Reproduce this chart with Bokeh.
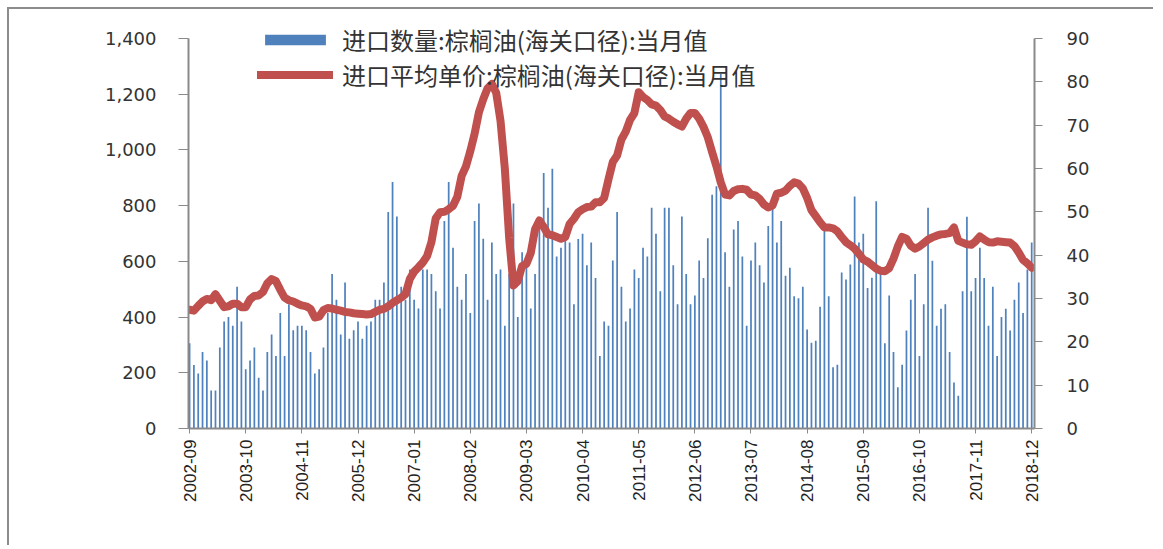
import numpy as np
from bokeh.plotting import figure
from bokeh.models import Range1d, LinearAxis, FixedTicker, NumeralTickFormatter, Legend
from bokeh.embed import file_html
from bokeh.resources import INLINE

# ---------------- data ----------------
tick_labels = ["2002-09", "2003-10", "2004-11", "2005-12", "2007-01", "2008-02",
               "2009-03", "2010-04", "2011-05", "2012-06", "2013-07", "2014-08",
               "2015-09", "2016-10", "2017-11", "2018-12"]

# monthly import quantity (left axis), 2002-09 .. 2018-12
qty = [306, 228, 197, 275, 244, 136, 136, 291, 384, 400, 369, 509, 384, 213, 244, 291,
       182, 136, 275, 337, 260, 415, 260, 446, 353, 369, 369, 353, 275, 197, 213, 291,
       415, 555, 462, 337, 524, 322, 353, 384, 322, 369, 384, 462, 462, 524, 777, 885,
       761, 509, 462, 571, 462, 431, 571, 571, 555, 493, 431, 745, 885, 649, 509, 462,
       555, 415, 745, 808, 681, 462, 668, 555, 571, 369, 555, 808, 400, 633, 603, 431,
       555, 745, 917, 792, 932, 617, 649, 680, 668, 446, 680, 699, 586, 668, 540, 260,
       384, 369, 603, 777, 509, 384, 431, 571, 540, 649, 617, 792, 699, 493, 792, 792,
       586, 446, 761, 555, 446, 477, 603, 540, 683, 839, 870, 1273, 633, 509, 714, 745,
       617, 369, 603, 668, 586, 524, 727, 792, 668, 745, 548, 577, 475, 468, 509, 355,
       308, 315, 437, 714, 475, 220, 229, 560, 535, 589, 833, 668, 699, 504, 541, 816,
       555, 306, 477, 275, 148, 229, 352, 462, 555, 260, 446, 792, 602, 369, 430, 446,
       275, 165, 118, 493, 760, 493, 540, 649, 540, 369, 509, 260, 400, 430, 352, 462,
       524, 415, 571, 668]

# monthly average import price (right axis)
price = [27.4, 27.2, 28.3, 29.3, 29.9, 29.6, 31.0, 29.5, 28.0, 28.2, 28.8, 28.8, 28.0, 28.0,
         29.8, 30.6, 30.7, 31.5, 33.5, 34.5, 34.0, 32.0, 30.2, 29.6, 29.3, 28.8, 28.4, 28.2,
         27.6, 25.6, 25.8, 27.3, 27.8, 27.7, 27.4, 27.2, 26.9, 26.8, 26.6, 26.5, 26.4, 26.3,
         26.4, 26.9, 27.4, 27.6, 28.2, 29.0, 29.6, 30.2, 31.0, 34.5, 36.2, 37.2, 38.3, 39.8,
         43.0, 48.5, 49.9, 50.0, 50.6, 51.4, 53.5, 58.3, 60.5, 64.0, 68.0, 73.0, 76.0, 78.5,
         79.5, 77.5, 71.0, 60.0, 44.0, 33.0, 34.0, 37.5, 38.0, 40.5, 46.0, 48.0, 46.5, 44.8,
         44.6, 44.2, 43.8, 44.2, 47.2, 48.4, 49.9, 50.6, 51.1, 51.2, 52.2, 52.2, 53.2, 57.5,
         61.5, 63.0, 66.7, 68.5, 71.2, 72.8, 77.6, 76.5, 75.8, 74.8, 74.5, 73.5, 72.0, 71.5,
         70.8, 70.2, 69.7, 71.5, 72.8, 72.8, 71.5, 69.6, 67.2, 63.8, 60.5, 56.8, 54.0, 53.8,
         54.8, 55.2, 55.3, 55.1, 54.0, 53.8, 53.0, 51.7, 51.0, 51.5, 54.2, 54.4, 54.9, 56.0,
         56.8, 56.5, 55.4, 53.2, 50.4, 49.0, 47.6, 46.4, 46.4, 46.2, 45.5, 44.2, 43.0, 42.3,
         41.5, 40.3, 39.0, 38.5, 37.7, 36.9, 36.4, 36.3, 37.0, 39.2, 42.0, 44.2, 43.8, 42.2,
         41.5, 42.0, 42.8, 43.6, 44.1, 44.5, 44.8, 44.9, 45.1, 46.4, 43.3, 42.9, 42.5, 42.4,
         43.2, 44.3, 43.6, 43.0, 42.9, 43.2, 43.1, 43.0, 42.9, 42.1, 40.6, 38.9, 38.1, 37.1]

label_qty = "进口数量:棕榈油(海关口径):当月值"
label_price = "进口平均单价:棕榈油(海关口径):当月值"

qty_max, price_max = 1400, 90
x = list(range(len(qty)))
tick_pos = [i * 13 for i in range(len(tick_labels))]

# frame extends a little above the top tick so the legend is not clipped
head = 408 / 390

# ---------------- figure ----------------
p = figure(width=1146, height=538, output_backend="svg", toolbar_location=None,
           x_range=Range1d(-0.25, 195.65), y_range=Range1d(0, qty_max * head),
           min_border_left=179, min_border_right=121, min_border_top=11,
           min_border_bottom=119)
p.styles = {"margin-left": "7px", "margin-top": "7px",
            "border-left": "2px solid #8c8c8c", "border-top": "2px solid #8c8c8c"}
p.outline_line_color = None
p.xgrid.visible = False
p.ygrid.visible = False
p.background_fill_color = "white"
p.border_fill_color = "white"

p.extra_y_ranges = {"price": Range1d(0, price_max * head)}

bars = p.vbar(x=x, top=qty, width=0.4, fill_color="#4F81BD", line_color=None)
line = p.line(x=x, y=price, y_range_name="price", line_color="#C0504D",
              line_width=8, line_join="round", line_cap="round")

axis_color = "#8a8a8a"
tick_font = "DejaVu Sans"

# left axis
la = p.yaxis[0]
la.ticker = FixedTicker(ticks=list(range(0, qty_max + 1, 200)))
la.bounds = (0, qty_max)
la.formatter = NumeralTickFormatter(format="0,0")
la.axis_line_color = axis_color
la.axis_line_width = 2
la.major_tick_line_color = axis_color
la.major_tick_out = 10
la.major_tick_in = 0
la.minor_tick_line_color = None
la.major_label_standoff = 22
la.major_label_text_font = tick_font
la.major_label_text_font_size = "18px"
la.major_label_text_color = "#333333"

# right axis
ra = LinearAxis(y_range_name="price", ticker=FixedTicker(ticks=list(range(0, price_max + 1, 10))))
ra.bounds = (0, price_max)
ra.axis_line_color = axis_color
ra.axis_line_width = 2
ra.major_tick_line_color = axis_color
ra.major_tick_out = 8
ra.major_tick_in = 0
ra.minor_tick_line_color = None
ra.major_label_standoff = 24
ra.major_label_text_font = tick_font
ra.major_label_text_font_size = "18px"
ra.major_label_text_color = "#333333"
p.add_layout(ra, "right")

# bottom axis
xa = p.xaxis[0]
xa.ticker = FixedTicker(ticks=tick_pos)
xa.major_label_overrides = {t: lab for t, lab in zip(tick_pos, tick_labels)}
xa.major_label_orientation = np.pi / 2
xa.axis_line_color = axis_color
xa.axis_line_width = 2
xa.major_tick_line_color = axis_color
xa.major_tick_out = 5
xa.major_tick_in = 0
xa.minor_tick_line_color = None
xa.major_label_standoff = 6
xa.major_label_text_font = "Liberation Sans"
xa.major_label_text_font_size = "17px"
xa.major_label_text_color = "#222222"

# legend
legend = Legend(items=[(label_qty, [bars]), (label_price, [line])],
                location=(69, 336), orientation="vertical",
                glyph_width=76, glyph_height=13, label_height=20,
                spacing=0, padding=0, margin=0, label_standoff=9,
                border_line_color=None, background_fill_alpha=0,
                label_text_font="Noto Sans CJK SC", label_text_font_size="24px",
                label_text_color="#333333")
p.add_layout(legend, "center")

open("out.html", "w").write(file_html(p, INLINE))
